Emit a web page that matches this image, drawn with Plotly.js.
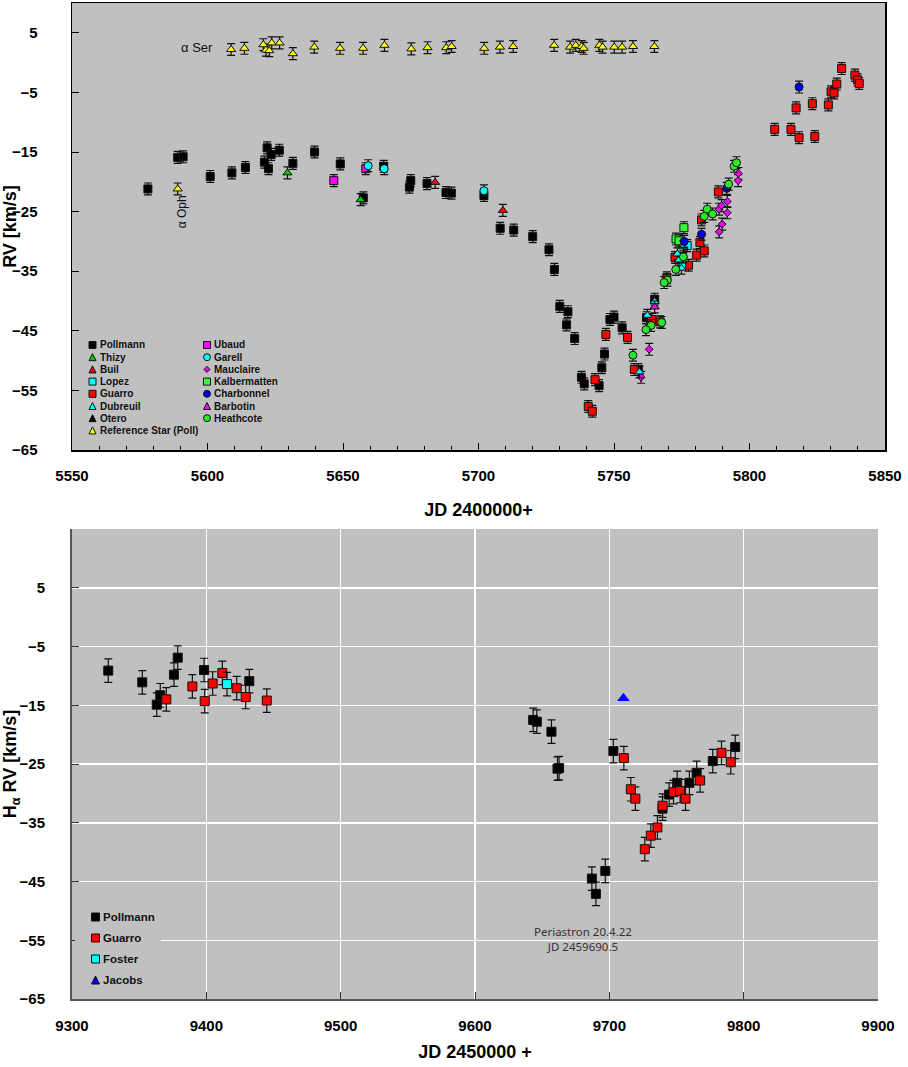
<!DOCTYPE html>
<html>
<head>
<meta charset="utf-8">
<script src="https://cdn.plot.ly/plotly-3.0.1.min.js"></script>
<style>
  html, body { margin: 0; padding: 0; background: #ffffff; }
  #chart { width: 908px; height: 1067px; }
</style>
</head>
<body>
<div id="chart"></div>
<script>
// ---------- Upper panel: RV of the binary, JD 2400000+ ----------
const pollmannJD = [5578, 5589, 5591, 5601, 5609, 5614, 5621, 5622, 5623.5, 5622.5, 5626.5, 5631.5, 5639.5, 5649, 5657.5, 5665, 5674.5, 5675, 5681, 5688, 5690, 5702, 5708, 5713, 5720, 5726, 5728, 5730, 5733, 5732.5, 5735.5, 5738, 5739, 5744.5, 5745.5, 5746.5, 5748.5, 5750, 5753, 5759, 5762, 5765];
const pollmannRV = [-21.2, -15.9, -15.8, -19.1, -18.5, -17.6, -16.7, -14.3, -15.4, -17.8, -14.7, -16.9, -15.0, -17.0, -22.7, -17.4, -20.9, -19.8, -20.3, -21.8, -21.9, -22.3, -27.8, -28.1, -29.2, -31.4, -34.7, -40.9, -41.8, -44.0, -46.3, -52.8, -53.9, -54.2, -51.2, -48.9, -43.1, -42.7, -44.5, -51.5, -42.8, -39.7];

const thizyJD = [5629.5, 5656.5];
const thizyRV = [-18.5, -23.0];

const builJD = [5684, 5709];
const builRV = [-20.1, -24.8];

const lopezJD = [5777, 5775];
const lopezRV = [-30.7, -33.8];

const guarroJD = [5740.5, 5742, 5743, 5747, 5755, 5757.5, 5764, 5767, 5769.5, 5772.5, 5777.5, 5780.5, 5781.7, 5783.3, 5782.3, 5788.5, 5809.3, 5815.3, 5818.3, 5824.1, 5817.2, 5823.2, 5829.1, 5830.1, 5831.2, 5832.2, 5834, 5838.9, 5839.9, 5840.5];
const guarroRV = [-57.7, -58.5, -53.2, -45.6, -46.1, -51.5, -43.1, -43.5, -36.1, -32.7, -34.0, -32.3, -30.2, -31.6, -26.4, -21.7, -11.2, -11.2, -12.6, -12.4, -7.6, -6.9, -7.1, -4.9, -5.1, -3.6, -1.0, -2.1, -2.9, -3.5];

const dubreuilJD = [5759.4, 5762.3, 5765, 5775.6, 5773.4, 5774, 5774.9];
const dubreuilRV = [-51.9, -42.4, -40.1, -30.9, -32.1, -33.1, -34.5];

const oteroJD = [];
const oteroRV = [];

// reference stars: alpha Ser row and the alpha Oph point
const refStarJD = [5608.7, 5613.6, 5620.6, 5621.6, 5622.8, 5623.7, 5626.6, 5631.5, 5639.4, 5648.9, 5657.4, 5665.3, 5675.2, 5681.2, 5688.1, 5690.1, 5702.1, 5707.9, 5712.8, 5727.9, 5733.8, 5735.9, 5738.1, 5738.8, 5744.6, 5745.8, 5750.1, 5753.0, 5757.0, 5764.9, 5589];
const refStarRV = [2.2, 2.4, 3.0, 2.1, 2.0, 3.3, 3.3, 1.5, 2.6, 2.4, 2.4, 2.9, 2.3, 2.5, 2.5, 2.7, 2.4, 2.6, 2.7, 2.9, 2.6, 2.9, 2.7, 2.4, 2.9, 2.6, 2.6, 2.6, 2.7, 2.7, -21.2];

const ubaudJD = [5646.6, 5658.4];
const ubaudRV = [-19.8, -17.8];

const garellJD = [5659.3, 5665.2, 5702];
const garellRV = [-17.3, -17.8, -21.5];

const mauclaireJD = [5760, 5763, 5788.8, 5789.9, 5791.8, 5788.8, 5789.7, 5791.8, 5795.8, 5795.9];
const mauclaireRV = [-52.8, -48.1, -28.4, -27.1, -25.2, -24.6, -24.0, -23.3, -19.8, -18.6];

const kalbermattenJD = [5775.8, 5772.9, 5774];
const kalbermattenRV = [-27.7, -29.6, -29.9];

const charbonnelJD = [5818.3, 5791.6, 5782.3, 5775.9];
const charbonnelRV = [-4.1, -21.1, -28.8, -30.0];

const barbotinJD = [5765];
const barbotinRV = [-41.0];

const heathcoteJD = [5757, 5763.7, 5761.8, 5767.6, 5769.7, 5768.5, 5775.6, 5772.8, 5784.4, 5783.3, 5786.4, 5792.3, 5794.3, 5795.2];
const heathcoteRV = [-49.1, -44.1, -44.8, -43.6, -36.5, -36.9, -32.6, -34.7, -24.6, -25.8, -25.4, -20.4, -17.4, -16.8];

// ---------- Lower panel: H-alpha RV, JD 2450000+ ----------
const haPollmannJD = [9327, 9352.3, 9363.1, 9365.7, 9375.9, 9378.7, 9398.3, 9432, 9643.3, 9646, 9656.9, 9661.4, 9662.6, 9687, 9690, 9697, 9703, 9739.6, 9744.5, 9750.5, 9759.6, 9765, 9777, 9793.7];
const haPollmannRV = [-9.1, -11.1, -14.9, -13.3, -9.8, -6.9, -9.0, -10.9, -17.5, -17.8, -19.5, -25.8, -25.7, -44.5, -47.1, -43.2, -22.8, -32.6, -30.2, -28.2, -28.2, -26.5, -24.5, -22.1];

const haGuarroJD = [9370.2, 9389.6, 9398.8, 9404.7, 9411.9, 9422.6, 9429.3, 9445, 9710.8, 9716, 9719.4, 9726.4, 9730.9, 9735.8, 9739.6, 9747.8, 9752.7, 9756.7, 9767.6, 9783.5, 9790.4];
const haGuarroRV = [-14.0, -11.8, -14.3, -11.3, -9.5, -12.1, -13.6, -14.2, -24.0, -29.3, -30.9, -39.5, -37.2, -35.8, -32.1, -29.8, -29.6, -30.9, -27.8, -23.1, -24.7];

const haFosterJD = [9415.4];
const haFosterRV = [-11.4];

const haJacobsJD = [9710.5];
const haJacobsRV = [-13.8];

const rvTicks = [5, -5, -15, -25, -35, -45, -55, -65];

// ---------- helpers ----------
const W = 908, H = 1067;
const px = x => x / W;
const py = y => 1 - y / H;

const BOLD = 'Liberation Sans, Arial, sans-serif';

function pointTrace(name, jd, rv, st, axes, err) {
  const t = {
    type: 'scatter', mode: 'markers', name: name,
    x: jd, y: rv, xaxis: axes[0], yaxis: axes[1], showlegend: false,
    marker: { symbol: st.symbol, color: st.color, size: st.size,
              line: { color: '#111111', width: 1 } },
    hoverinfo: 'x+y+name'
  };
  if (err) {
    t.error_y = { type: 'constant', value: err, color: '#111111', thickness: 1.2, width: 4 };
  }
  return t;
}

// marker styles per observer
const sty = {
  Pollmann:     { symbol: 'square',      color: '#000000', size: 8 },
  Thizy:        { symbol: 'triangle-up', color: '#00c800', size: 8 },
  Buil:         { symbol: 'triangle-up', color: '#ff0000', size: 8 },
  Lopez:        { symbol: 'square',      color: '#00ffff', size: 8 },
  Guarro:       { symbol: 'square',      color: '#ff0000', size: 8 },
  Dubreuil:     { symbol: 'triangle-up', color: '#00ffff', size: 8 },
  Otero:        { symbol: 'triangle-up', color: '#000000', size: 8 },
  Ref:          { symbol: 'triangle-up', color: '#ffff00', size: 8 },
  Ubaud:        { symbol: 'square',      color: '#ff00ff', size: 8 },
  Garell:       { symbol: 'circle',      color: '#00ffff', size: 8 },
  Mauclaire:    { symbol: 'diamond',     color: '#ee00ee', size: 6 },
  Kalbermatten: { symbol: 'square',      color: '#33ff33', size: 8 },
  Charbonnel:   { symbol: 'circle',      color: '#0000e6', size: 8 },
  Barbotin:     { symbol: 'triangle-up', color: '#ff00ff', size: 8 },
  Heathcote:    { symbol: 'circle',      color: '#2ee62e', size: 8 }
};

const upperAxes = ['x', 'y'];
const traces = [
  pointTrace('Pollmann', pollmannJD, pollmannRV, sty.Pollmann, upperAxes, 1),
  pointTrace('Reference Star (Poll)', refStarJD, refStarRV, sty.Ref, upperAxes, 1),
  pointTrace('Thizy', thizyJD, thizyRV, sty.Thizy, upperAxes, 1),
  pointTrace('Buil', builJD, builRV, sty.Buil, upperAxes, 1),
  pointTrace('Ubaud', ubaudJD, ubaudRV, sty.Ubaud, upperAxes, 1),
  pointTrace('Garell', garellJD, garellRV, sty.Garell, upperAxes, 1),
  pointTrace('Otero', oteroJD, oteroRV, sty.Otero, upperAxes, 1),
  pointTrace('Guarro', guarroJD, guarroRV, sty.Guarro, upperAxes, 1),
  pointTrace('Mauclaire', mauclaireJD, mauclaireRV, sty.Mauclaire, upperAxes, 1),
  pointTrace('Kalbermatten', kalbermattenJD, kalbermattenRV, sty.Kalbermatten, upperAxes, 1),
  pointTrace('Lopez', lopezJD, lopezRV, sty.Lopez, upperAxes, 1),
  pointTrace('Dubreuil', dubreuilJD, dubreuilRV, sty.Dubreuil, upperAxes, 1),
  pointTrace('Barbotin', barbotinJD, barbotinRV, sty.Barbotin, upperAxes, 1),
  pointTrace('Charbonnel', charbonnelJD, charbonnelRV, sty.Charbonnel, upperAxes, 1),
  pointTrace('Heathcote', heathcoteJD, heathcoteRV, sty.Heathcote, upperAxes, 1)
];

const lowerAxes = ['x2', 'y2'];
const haSty = {
  Pollmann: { symbol: 'square', color: '#000000', size: 9 },
  Guarro:   { symbol: 'square', color: '#ff0000', size: 9 },
  Foster:   { symbol: 'square', color: '#00ffff', size: 9 },
  Jacobs:   { symbol: 'triangle-up', color: '#0000ff', size: 11 }
};
traces.push(
  pointTrace('Pollmann', haPollmannJD, haPollmannRV, haSty.Pollmann, lowerAxes, 2),
  pointTrace('Guarro', haGuarroJD, haGuarroRV, haSty.Guarro, lowerAxes, 2),
  pointTrace('Foster', haFosterJD, haFosterRV, haSty.Foster, lowerAxes, 2),
  pointTrace('Jacobs', haJacobsJD, haJacobsRV, haSty.Jacobs, lowerAxes, 0)
);
traces[traces.length - 1].marker.line = { width: 0 };

// ---------- hand-built legends (compact row spacing) ----------
const shapes = [];
const annotations = [];

function swatch(cx, cy, st, s) {
  const h = s / 2;
  const base = { xref: 'paper', yref: 'paper', fillcolor: st.color,
                 line: { color: '#111111', width: 1 }, layer: 'above' };
  if (st.symbol === 'square') {
    return Object.assign({ type: 'rect', x0: px(cx - h), x1: px(cx + h), y0: py(cy + h), y1: py(cy - h) }, base);
  }
  if (st.symbol === 'circle') {
    return Object.assign({ type: 'circle', x0: px(cx - h), x1: px(cx + h), y0: py(cy + h), y1: py(cy - h) }, base);
  }
  if (st.symbol === 'diamond') {
    const p = `M${px(cx - h)},${py(cy)} L${px(cx)},${py(cy - h)} L${px(cx + h)},${py(cy)} L${px(cx)},${py(cy + h)} Z`;
    return Object.assign({ type: 'path', path: p }, base);
  }
  const p = `M${px(cx - h)},${py(cy + h)} L${px(cx + h)},${py(cy + h)} L${px(cx)},${py(cy - h)} Z`;
  return Object.assign({ type: 'path', path: p }, base);
}

function legendColumn(items, mx, tx, y0, dy, s, fsize) {
  items.forEach((it, i) => {
    const cy = y0 + i * dy;
    shapes.push(swatch(mx, cy, it[1], it[2] || s));
    annotations.push({
      xref: 'paper', yref: 'paper', x: px(tx), y: py(cy),
      xanchor: 'left', yanchor: 'middle', showarrow: false, text: it[0],
      font: { family: BOLD, size: fsize, color: '#111111', weight: 'bold' }
    });
  });
}

legendColumn([
  ['Pollmann', sty.Pollmann],
  ['Thizy', sty.Thizy],
  ['Buil', sty.Buil],
  ['Lopez', sty.Lopez],
  ['Guarro', sty.Guarro],
  ['Dubreuil', sty.Dubreuil],
  ['Otero', sty.Otero],
  ['Reference Star (Poll)', sty.Ref]
], 92.5, 97.5, 345, 12.2, 7, 10);

legendColumn([
  ['Ubaud', sty.Ubaud],
  ['Garell', sty.Garell],
  ['Mauclaire', sty.Mauclaire, 6],
  ['Kalbermatten', sty.Kalbermatten],
  ['Charbonnel', sty.Charbonnel],
  ['Barbotin', sty.Barbotin],
  ['Heathcote', sty.Heathcote]
], 207, 212, 345, 12.2, 7, 10);

// lower legend sits on a plain box that hides the grid behind it
shapes.push({ type: 'rect', xref: 'paper', yref: 'paper', x0: px(75), x1: px(161), y0: py(993), y1: py(903),
              fillcolor: '#c0c0c0', line: { width: 0 }, layer: 'above' });
legendColumn([
  ['Pollmann', haSty.Pollmann],
  ['Guarro', haSty.Guarro],
  ['Foster', haSty.Foster],
  ['Jacobs', { symbol: 'triangle-up', color: '#0000ff' }]
], 95.5, 101, 917, 21, 8, 11.5);

// ---------- text labels inside the panels ----------
annotations.push(
  { xref: 'x', yref: 'y', x: 5596, y: 2.6, text: 'α Ser', showarrow: false,
    font: { family: 'Liberation Sans, Arial, sans-serif', size: 13, color: '#0b1020' } },
  { xref: 'x', yref: 'y', x: 5590.5, y: -25.0, text: 'α Oph', showarrow: false, textangle: -90,
    font: { family: 'Liberation Sans, Arial, sans-serif', size: 12, color: '#0b1020' } },
  { xref: 'x2', yref: 'y2', x: 9680.5, y: -54.8, text: 'Periastron 20.4.22<br>JD 2459690.5', showarrow: false,
    font: { family: 'Noto Sans, sans-serif', size: 11.5, color: '#333333' } }
);

const tickFont = { family: BOLD, size: 15, color: '#000000', weight: 'bold' };
const titleFont = { family: BOLD, size: 18, color: '#000000', weight: 'bold' };

const layout = {
  width: W, height: H,
  margin: { l: 0, r: 0, t: 0, b: 0 },
  paper_bgcolor: '#ffffff',
  plot_bgcolor: '#c0c0c0',
  showlegend: false,
  xaxis: {
    domain: [px(72), px(885)], anchor: 'y', range: [5550, 5850],
    tick0: 5550, dtick: 50, tickformat: 'd', ticks: 'inside', ticklen: 7, tickcolor: '#000000', tickwidth: 1,
    minor: { dtick: 10, ticks: 'inside', ticklen: 4, tickcolor: '#000000' },
    showgrid: false, zeroline: false, showline: true, linecolor: '#000000', linewidth: 1.5, mirror: true,
    tickfont: tickFont, ticklabelstandoff: 11,
    title: { text: 'JD 2400000+', font: titleFont, standoff: 21 }
  },
  yaxis: {
    domain: [py(450), py(3)], anchor: 'x', range: [-65, 10],
    tickvals: rvTicks, ticks: 'inside', ticklen: 7, tickcolor: '#000000',
    showgrid: false, zeroline: false, showline: true, linecolor: '#000000', linewidth: 1.5, mirror: true,
    tickfont: tickFont, ticklabelstandoff: 30,
    title: { text: 'RV [km/s]', font: titleFont, standoff: 0 }
  },
  xaxis2: {
    domain: [px(72), px(878)], anchor: 'y2', range: [9300, 9900],
    tick0: 9300, dtick: 100, tickformat: 'd', ticks: 'inside', ticklen: 7, tickcolor: '#333333',
    showgrid: true, gridcolor: '#ffffff', gridwidth: 1.5, zeroline: false,
    showline: true, linecolor: '#555555', linewidth: 2,
    tickfont: tickFont, ticklabelstandoff: 12,
    title: { text: 'JD 2450000 +', font: titleFont, standoff: 12 }
  },
  yaxis2: {
    domain: [py(999), py(529)], anchor: 'x2', range: [-65, 15],
    tickvals: rvTicks, ticks: 'inside', ticklen: 7, tickcolor: '#333333',
    showgrid: true, gridcolor: '#ffffff', gridwidth: 1.5, zeroline: false,
    showline: true, linecolor: '#555555', linewidth: 2,
    tickfont: tickFont, ticklabelstandoff: 22,
    title: { text: 'H<sub>α</sub> RV [km/s]', font: titleFont, standoff: 2 }
  },
  shapes: shapes,
  annotations: annotations
};

Plotly.newPlot('chart', traces, layout, { displayModeBar: false, staticPlot: true });
</script>
</body>
</html>
